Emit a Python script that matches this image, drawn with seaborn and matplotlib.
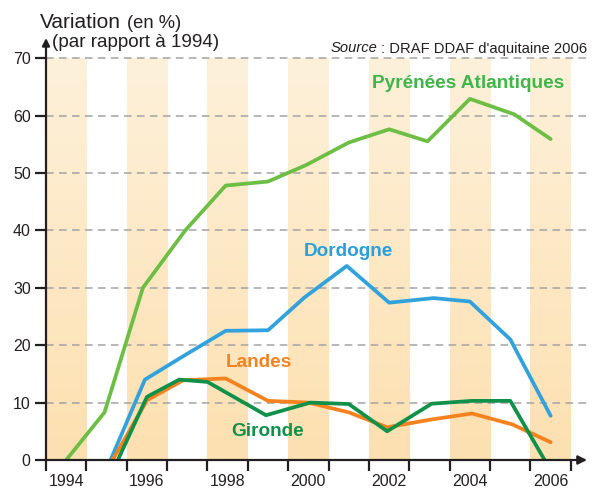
import numpy as np
import pandas as pd
import matplotlib
matplotlib.use("Agg")
import matplotlib.pyplot as plt
import seaborn as sns

# ---------------------------------------------------------------
# Données (variation en % par rapport à 1994)
# ---------------------------------------------------------------
pa_annees = [1994.5, 1995.45, 1996.4, 1997.45, 1998.45, 1999.5, 2000.45,
             2001.5, 2002.5, 2003.45, 2004.5, 2005.6, 2006.5]
pa_valeurs = [0, 8.3, 30.0, 40.0, 47.8, 48.5, 51.4,
              55.3, 57.6, 55.5, 62.9, 60.2, 55.9]

dordogne_annees = [1995.6, 1996.45, 1997.45, 1998.45, 1999.5, 2000.4,
                   2001.45, 2002.5, 2003.6, 2004.5, 2005.5, 2006.5]
dordogne_valeurs = [0, 14.0, 18.3, 22.5, 22.6, 28.3,
                    33.8, 27.4, 28.2, 27.6, 21.0, 7.7]

landes_annees = [1995.65, 1996.5, 1997.4, 1998.45, 1999.5, 2000.5,
                 2001.5, 2002.45, 2003.5, 2004.55, 2005.55, 2006.5]
landes_valeurs = [0, 10.4, 13.9, 14.2, 10.3, 10.0,
                  8.3, 5.7, 7.0, 8.1, 6.2, 3.1]

gironde_annees = [1995.78, 1996.5, 1997.3, 1998.0, 1999.45, 2000.55,
                  2001.5, 2002.45, 2003.55, 2004.55, 2005.5, 2006.35]
gironde_valeurs = [0, 11.0, 14.0, 13.6, 7.8, 10.0,
                   9.75, 5.0, 9.8, 10.3, 10.3, 0]

departements = ["Pyrénées Atlantiques", "Dordogne", "Landes", "Gironde"]
couleurs_lignes = ["#6dbe45", "#32a2dc", "#f5821f", "#0f914a"]
couleurs_textes = ["#3fb54a", "#2b9fd9", "#f5821f", "#0f914a"]
positions_textes = [(2004.45, 65.5), (2001.48, 36.4), (1999.27, 16.9), (1999.5, 5.0)]

annees_ticks = list(range(1994, 2008))
annees_labels = list(range(1994, 2007, 2))
y_ticks = list(range(0, 80, 10))

df = pd.concat([
    pd.DataFrame({"annee": pa_annees, "variation": pa_valeurs, "dep": departements[0]}),
    pd.DataFrame({"annee": dordogne_annees, "variation": dordogne_valeurs, "dep": departements[1]}),
    pd.DataFrame({"annee": landes_annees, "variation": landes_valeurs, "dep": departements[2]}),
    pd.DataFrame({"annee": gironde_annees, "variation": gironde_valeurs, "dep": departements[3]}),
])

# ---------------------------------------------------------------
# Style
# ---------------------------------------------------------------
sns.set_theme(style="white")
plt.rcParams["font.family"] = ["Liberation Sans", "DejaVu Sans"]
texte = "#231f20"

fig = plt.figure(figsize=(5.98, 4.91), dpi=100)
ax = fig.add_axes([46 / 598, 31 / 491, 541 / 598, 422 / 491])

# bandes verticales en dégradé (une année sur deux)
degrade = np.linspace(0, 1, 256).reshape(-1, 1)
haut = np.array([253, 241, 218]) / 255
bas = np.array([253, 224, 176]) / 255
img = haut[None, None, :] * (1 - degrade[..., None]) + bas[None, None, :] * degrade[..., None]
for a in annees_labels:
    ax.imshow(img, extent=(a, a + 1, 0, 70), aspect="auto", origin="upper", zorder=0)

sns.lineplot(data=df, x="annee", y="variation", hue="dep", hue_order=departements,
             palette=couleurs_lignes, linewidth=2.7, estimator=None, sort=False,
             legend=False, ax=ax, zorder=3)

for nom, coul, (tx, ty) in zip(departements, couleurs_textes, positions_textes):
    ax.text(tx, ty, nom, color=coul, fontsize=13.7, fontweight="bold",
            ha="center", va="center", zorder=4)

ax.set_xlim(1994, 2007.4)
ax.set_ylim(0, 73.5)
ax.set_xlabel("")
ax.set_ylabel("")

# grille horizontale pointillée
for v in y_ticks[1:]:
    ax.axhline(v, color="#a3a3a3", linewidth=1.1, linestyle=(0, (5, 3.5)), zorder=1)

# axes avec flèches
for s in ["top", "right", "left", "bottom"]:
    ax.spines[s].set_visible(False)
ax.annotate("", xy=(1.0, 0), xytext=(0, 0), xycoords="axes fraction",
            arrowprops=dict(arrowstyle="-|>", color=texte, lw=1.6, mutation_scale=13,
                            shrinkA=0, shrinkB=0), zorder=5)
ax.annotate("", xy=(0, 1.0), xytext=(0, 0), xycoords="axes fraction",
            arrowprops=dict(arrowstyle="-|>", color=texte, lw=1.6, mutation_scale=11,
                            shrinkA=0, shrinkB=0), zorder=5)

ax.set_xticks(annees_ticks)
ax.set_xticklabels([])
ax.set_xticks([a + 0.5 for a in annees_labels], minor=True)
ax.set_xticklabels([str(a) for a in annees_labels], minor=True)
ax.tick_params(axis="x", which="major", length=8, width=1.6, color=texte, direction="out", bottom=True)
ax.tick_params(axis="x", which="minor", length=0, pad=10, labelsize=11.5, labelcolor=texte)
ax.set_yticks(y_ticks)
ax.set_yticklabels([str(v) for v in y_ticks])
ax.tick_params(axis="y", length=8, width=1.6, color=texte, direction="out", left=True,
               pad=3, labelsize=11.5, labelcolor=texte)

# titres
fig.text(40 / 598, 1 - 28 / 491, "Variation", fontsize=15, color=texte, va="baseline")
fig.text(127 / 598, 1 - 28 / 491, "(en %)", fontsize=13.2, color=texte, va="baseline")
fig.text(52 / 598, 1 - 47 / 491, "(par rapport à 1994)", fontsize=13.6, color=texte, va="baseline")

# source : partie droite puis "Source" en italique collé à gauche
src = fig.text(587 / 598, 1 - 52.5 / 491, "\u2009: DRAF DDAF d'aquitaine 2006", fontsize=10.6,
               color=texte, va="baseline", ha="right")
fig.canvas.draw()
bb = src.get_window_extent(renderer=fig.canvas.get_renderer())
fig.text(bb.x0 / fig.bbox.width, 1 - 52.5 / 491, "Source", fontsize=10.6, color=texte,
         va="baseline", ha="right", style="italic")

fig.savefig("out.png", dpi=100)
